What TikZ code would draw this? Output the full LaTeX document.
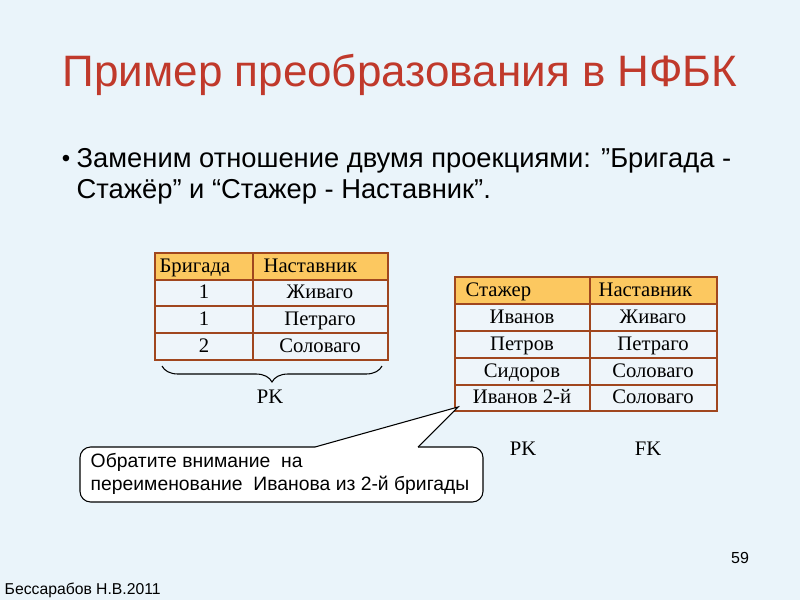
\documentclass[tikz,border=0pt]{standalone}
\usepackage{fontspec}
\setmainfont{Liberation Sans}
\newfontfamily\tabfont{Liberation Serif}
\usetikzlibrary{decorations.pathreplacing}
\definecolor{bg}{HTML}{EAF4FA}
\definecolor{hdr}{HTML}{FCC860}
\definecolor{brd}{HTML}{A0461E}
\definecolor{ttl}{HTML}{C0392B}
\definecolor{cell}{HTML}{EEF5FA}
\begin{document}
\begin{tikzpicture}[x=0.75pt,y=-0.75pt,
  tx/.style={font=\tabfont\fontsize{15.5}{17}\selectfont,text height=10.5pt,text depth=3pt,inner sep=1pt},
  tline/.style={brd,line width=1.8pt}]
\fill[bg] (0,0) rectangle (800,600);
\useasboundingbox (0,0) rectangle (800,600);
\node (title) at (400,75) {\color{ttl}\fontsize{33}{38}\selectfont Пример преобразования в НФБК};
\node (bul) at (66,161) {\fontsize{18}{20}\selectfont •};
\node[anchor=west,align=left,font=\fontsize{20.5}{23}\selectfont] (btext) at (72,176) {Заменим отношение двумя проекциями: ”Бригада -\\Стажёр” и “Стажер - Наставник”.};
% table 1
\fill[hdr] (155,253) rectangle (388,280);
\fill[cell] (155,280) rectangle (388,360);
\draw[tline] (155,253) rectangle (388,360);
\foreach \y in {280,306,333} \draw[tline] (155,\y) -- (388,\y);
\draw[tline] (253,253) -- (253,360);
\node[tx,anchor=west] (a0) at (158,267) {Бригада};
\node[tx,anchor=west] (b0) at (262,267) {Наставник};
\node[tx] (a1) at (204,293) {1};\node[tx] (b1) at (320,293) {Живаго};
\node[tx] (a2) at (204,320) {1};\node[tx] (b2) at (320,320) {Петраго};
\node[tx] (a3) at (204,347) {2};\node[tx] (b3) at (320,347) {Соловаго};
\draw[decoration={brace,mirror,amplitude=12pt},decorate,line width=0.8pt] (162,366) -- (382,366);
\node[tx] (pk1) at (270,398) {PK};
% table 2
\fill[hdr] (455,277) rectangle (717,304);
\fill[cell] (455,304) rectangle (717,411);
\draw[tline] (455,277) rectangle (717,411);
\foreach \y in {304,331,358,385} \draw[tline] (455,\y) -- (717,\y);
\draw[tline] (590,277) -- (590,411);
\node[tx,anchor=west] (c0) at (464,291) {Стажер};
\node[tx,anchor=west] (d0) at (597,291) {Наставник};
\node[tx] (c1) at (522,318) {Иванов};\node[tx] (d1) at (653,318) {Живаго};
\node[tx] (c2) at (522,345) {Петров};\node[tx] (d2) at (653,345) {Петраго};
\node[tx] (c3) at (522,372) {Сидоров};\node[tx] (d3) at (653,372) {Соловаго};
\node[tx] (c4) at (522,398) {Иванов 2-й};\node[tx] (d4) at (653,398) {Соловаго};
\node[tx] (pk2) at (523,450) {PK};
\node[tx] (fk) at (648,450) {FK};
% callout
\coordinate (tip) at (458,407);
\draw[fill=white,line width=0.8pt,rounded corners=8pt] (315,447) -- (80,447) -- (80,502) -- (483,502) -- (483,447) -- (418,447);
\draw[line width=0.8pt,fill=white] (315,447) -- (tip) -- (418,447);
\node[anchor=west,align=left,font=\fontsize{14.5}{17}\selectfont] (note) at (86,474) {Обратите внимание\ \ на\\переименование\ \ Иванова из 2-й бригады};
\node (num) at (740,558) {\fontsize{12}{14}\selectfont 59};
\node[anchor=west] (auth) at (0,590) {\fontsize{11.8}{13}\selectfont Бессарабов Н.В.2011};
\end{tikzpicture}
\end{document}
